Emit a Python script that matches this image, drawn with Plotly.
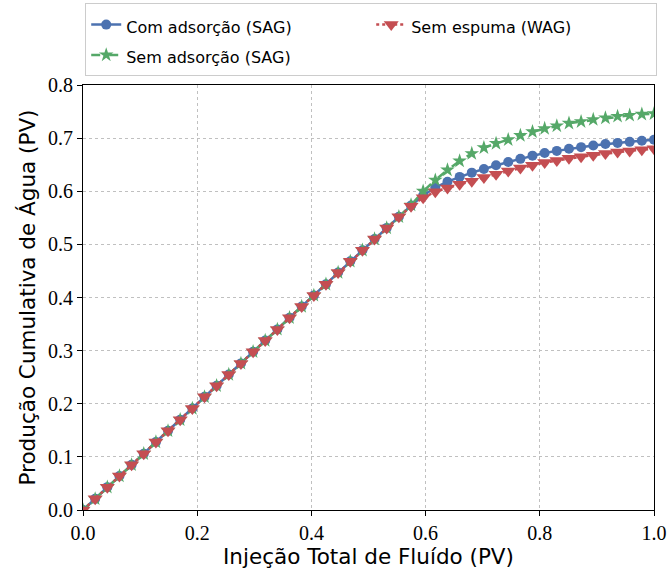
import plotly.graph_objects as go

x = [0.0, 0.0213, 0.0426, 0.0638, 0.0851, 0.1064, 0.1277, 0.1489, 0.1702, 0.1915,
     0.2128, 0.2340, 0.2553, 0.2766, 0.2979, 0.3191, 0.3404, 0.3617, 0.3830, 0.4043,
     0.4255, 0.4468, 0.4681, 0.4894, 0.5106, 0.5319, 0.5532, 0.5745, 0.5957, 0.6170,
     0.6383, 0.6596, 0.6809, 0.7021, 0.7234, 0.7447, 0.7660, 0.7872, 0.8085, 0.8298,
     0.8511, 0.8723, 0.8936, 0.9149, 0.9362, 0.9574, 0.9787, 1.0]

early = [0.0, 0.021, 0.043, 0.064, 0.085, 0.106, 0.128, 0.149, 0.170, 0.191,
         0.213, 0.234, 0.255, 0.276, 0.298, 0.319, 0.340, 0.362, 0.383, 0.404,
         0.425, 0.447, 0.468, 0.489, 0.510, 0.531, 0.552]

com_ads = early + [0.573, 0.592, 0.607, 0.618, 0.627, 0.635, 0.642, 0.649, 0.655, 0.661,
                   0.667, 0.672, 0.676, 0.680, 0.683, 0.686, 0.689, 0.691, 0.693, 0.695, 0.697]
sem_ads = early + [0.574, 0.600, 0.621, 0.640, 0.657, 0.671, 0.682, 0.690, 0.697, 0.705,
                   0.712, 0.718, 0.723, 0.728, 0.731, 0.735, 0.738, 0.741, 0.743, 0.745, 0.746]
sem_esp = early + [0.572, 0.588, 0.599, 0.606, 0.613, 0.619, 0.626, 0.632, 0.638, 0.644,
                   0.649, 0.654, 0.658, 0.662, 0.665, 0.668, 0.671, 0.674, 0.676, 0.678, 0.680]

labels = ["Com adsorção (SAG)", "Sem adsorção (SAG)", "Sem espuma (WAG)"]
xticks = [0.0, 0.2, 0.4, 0.6, 0.8, 1.0]
yticks = [0.0, 0.1, 0.2, 0.3, 0.4, 0.5, 0.6, 0.7, 0.8]


def lbl(s):
    return f"<span style='font-size:16px'>{s}</span>"


fig = go.Figure()
fig.add_trace(go.Scatter(x=x, y=com_ads, name=lbl(labels[0]), mode="lines+markers", legendrank=1,
                         line=dict(color="#4C72B0", width=2.5, dash="solid"),
                         marker=dict(symbol="circle", size=10, color="#4C72B0")))
fig.add_trace(go.Scatter(x=x, y=sem_ads, name=lbl(labels[1]), mode="lines+markers", legendrank=3,
                         line=dict(color="#55A868", width=2.5, dash="dash"),
                         marker=dict(symbol="star", size=11, color="#55A868")))
fig.add_trace(go.Scatter(x=x, y=sem_esp, name=lbl(labels[2]), mode="lines+markers", legendrank=2,
                         line=dict(color="#C44E52", width=2.5, dash="dot"),
                         marker=dict(symbol="triangle-down", size=13, color="#C44E52")))

axis_common = dict(showline=True, linecolor="black", linewidth=1.2, mirror=True,
                   ticks="outside", ticklen=5, tickcolor="black",
                   showgrid=True, gridcolor="#c0c0c0", griddash="dot", gridwidth=1,
                   zeroline=False, automargin=False,
                   tickfont=dict(family="Liberation Serif", size=20, color="black"))

fig.update_xaxes(range=[0, 1], tickvals=xticks, ticktext=[f"{v:.1f}" for v in xticks],
                 title=dict(text="Injeção Total de Fluído (PV)", standoff=4,
                            font=dict(family="DejaVu Sans", size=21.5, color="black")),
                 **axis_common)
fig.update_yaxes(range=[0, 0.8], tickvals=yticks, ticktext=[f"{v:.1f}" for v in yticks],
                 title=dict(text="Produção Cumulativa de Água (PV)", standoff=6,
                            font=dict(family="DejaVu Sans", size=21.5, color="black")),
                 **axis_common)

fig.update_layout(
    width=671, height=575,
    margin=dict(l=83, r=17, t=85, b=65, autoexpand=False),
    plot_bgcolor="white", paper_bgcolor="white",
    legend=dict(orientation="h", xref="container", x=0.127, xanchor="left",
                yref="container", y=0.994, yanchor="top",
                entrywidth=240, bgcolor="white", bordercolor="#cccccc", borderwidth=1,
                font=dict(family="DejaVu Sans", size=21, color="black"),
                traceorder="normal"),
)

fig.write_html("out.html")
